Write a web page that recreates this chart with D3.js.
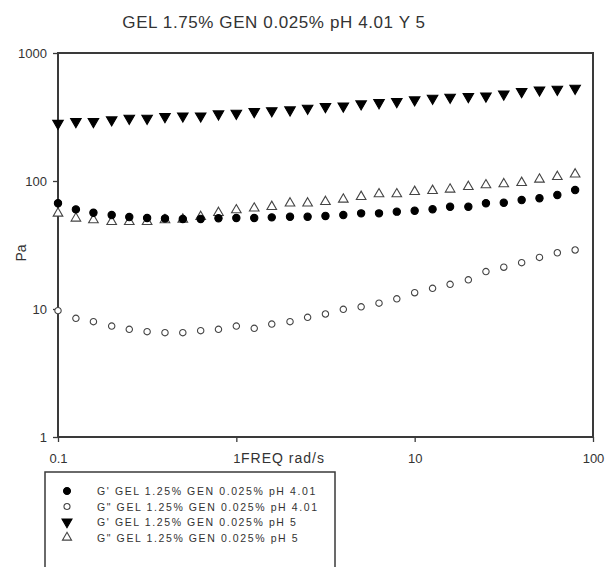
<!DOCTYPE html>
<html>
<head>
<meta charset="utf-8">
<script src="https://cdn.jsdelivr.net/npm/d3@7"></script>
<style>
  html, body { margin: 0; padding: 0; background: #fff; }
  svg { display: block; font-family: "Liberation Sans", Arial, sans-serif; }
</style>
</head>
<body>
<svg id="chart" width="605" height="567"></svg>
<script>
// Oscillatory frequency sweep, rad/s
const freq = [0.1, 0.126, 0.158, 0.2, 0.251, 0.316, 0.398, 0.501, 0.631, 0.794,
              1, 1.26, 1.58, 2, 2.51, 3.16, 3.98, 5.01, 6.31, 7.94,
              10, 12.6, 15.8, 20, 25.1, 31.6, 39.8, 50.1, 63.1, 79.4];

// Moduli, Pa
const gPrime401 = [67, 60, 56.5, 54.2, 52.3, 51.4, 51, 50.5, 50.5, 51.1,
                   51.4, 51.4, 52, 52.6, 52.6, 53.3, 54.2, 55.9, 55.9, 57.6,
                   58.6, 60.1, 63, 63, 67, 67.7, 71, 73.3, 77.8, 85];
const gDouble401 = [9.7, 8.46, 7.96, 7.36, 6.94, 6.65, 6.53, 6.53, 6.77, 6.94,
                    7.36, 7.07, 7.63, 7.96, 8.61, 9.14, 9.95, 10.4, 11.1, 12.0,
                    13.4, 14.5, 15.6, 16.9, 19.6, 21.2, 23.0, 25.3, 27.5, 28.9];
const gPrime5 = [282, 291, 291, 300, 309, 309, 318, 322, 322, 334,
                 338, 348, 354, 359, 370, 381, 385, 400, 409, 417,
                 430, 443, 451, 456, 461, 478, 499, 514, 520, 530];
const gDouble5 = [55.9, 51.1, 49.6, 48.1, 48.1, 48.1, 49.6, 50.2, 52.6, 56.5,
                  59.3, 61.2, 63, 67, 67, 68.9, 71.9, 75.4, 79.1, 79.1,
                  82.5, 84, 86.1, 90.2, 93, 94.8, 97, 103, 108, 113];

const seriesNames = [
  "G' GEL 1.25% GEN 0.025% pH 4.01",
  "G\" GEL 1.25% GEN 0.025% pH 4.01",
  "G' GEL 1.25% GEN 0.025% pH 5",
  "G\" GEL 1.25% GEN 0.025% pH 5"
];
const xTicks = [0.1, 1, 10, 100];
const xTickLabels = ["0.1", "1", "10", "100"];
const yTicks = [1, 10, 100, 1000];
const yTickLabels = ["1", "10", "100", "1000"];

const titleText = "GEL 1.75% GEN 0.025% pH 4.01 Y 5";
const xTitle = "FREQ rad/s";
const yTitle = "Pa";

const svg = d3.select("#chart");
const plot = { left: 58, right: 593, top: 53, bottom: 437 };

const x = d3.scaleLog().domain([0.1, 100]).range([plot.left, plot.right]);
const y = d3.scaleLog().domain([1, 1000]).range([plot.bottom, plot.top]);

const ink = "#3a3a3a";

// Title
svg.append("text")
  .attr("x", 274).attr("y", 28)
  .attr("text-anchor", "middle")
  .attr("font-size", 17)
  .attr("letter-spacing", 0.6)
  .attr("fill", "#333")
  .text(titleText);

// Axes
const yAxis = d3.axisLeft(y).tickValues(yTicks)
  .tickFormat((d, i) => yTickLabels[i]).tickSize(5).tickPadding(6);
const gy = svg.append("g").attr("transform", `translate(${plot.left},0)`).call(yAxis);
gy.select(".domain").remove();
gy.selectAll("line").attr("stroke", ink).attr("stroke-width", 1.3);
gy.selectAll("text").attr("font-size", 13).attr("fill", "#333")
  .style("font-family", "Liberation Sans, Arial, sans-serif");

const xAxis = d3.axisBottom(x).tickValues(xTicks)
  .tickFormat((d, i) => xTickLabels[i]).tickSize(5).tickPadding(12);
const gx = svg.append("g").attr("transform", `translate(0,${plot.bottom})`).call(xAxis);
gx.select(".domain").remove();
gx.selectAll("line").attr("stroke", ink).attr("stroke-width", 1.3);
gx.selectAll("text").attr("font-size", 13).attr("fill", "#333")
  .style("font-family", "Liberation Sans, Arial, sans-serif");

// Frame
svg.append("rect")
  .attr("x", plot.left).attr("y", plot.top)
  .attr("width", plot.right - plot.left).attr("height", plot.bottom - plot.top)
  .attr("fill", "none").attr("stroke", ink).attr("stroke-width", 2);

// Axis titles
svg.append("text")
  .attr("x", 283).attr("y", 463)
  .attr("text-anchor", "middle")
  .attr("font-size", 14)
  .attr("letter-spacing", 1)
  .attr("fill", "#333")
  .text(xTitle);

svg.append("text")
  .attr("transform", "translate(26,253) rotate(-90)")
  .attr("text-anchor", "middle")
  .attr("font-size", 14)
  .attr("fill", "#333")
  .text(yTitle);

// Marker styles (filled circle, open circle, filled down-triangle, open up-triangle)
const styles = [
  { type: d3.symbolCircle, size: 42, rot: 0, fill: "#000", stroke: "#000" },
  { type: d3.symbolCircle, size: 32, rot: 0, fill: "#fff", stroke: "#444" },
  { type: d3.symbolTriangle, size: 48, rot: 180, fill: "#000", stroke: "#000" },
  { type: d3.symbolTriangle, size: 40, rot: 0, fill: "#fff", stroke: "#444" }
];
const seriesValues = [gPrime401, gDouble401, gPrime5, gDouble5];

// Draw order: open markers first so filled markers sit on top
const drawOrder = [3, 1, 2, 0];
drawOrder.forEach(si => {
  const st = styles[si];
  const pts = freq.map((f, i) => ({ f, v: seriesValues[si][i] }));
  svg.append("g").selectAll("path")
    .data(pts)
    .join("path")
    .attr("d", d3.symbol().type(st.type).size(st.size))
    .attr("transform", d => `translate(${x(d.f)},${y(d.v)}) rotate(${st.rot})`)
    .attr("fill", st.fill)
    .attr("stroke", st.stroke)
    .attr("stroke-width", 1.1);
});

// Legend
const legend = svg.append("g");
legend.append("rect")
  .attr("x", 45).attr("y", 472)
  .attr("width", 290).attr("height", 110)
  .attr("fill", "#fff").attr("stroke", ink).attr("stroke-width", 1.5);

seriesNames.forEach((name, i) => {
  const st = styles[i];
  const rowY = 491 + i * 15.5;
  legend.append("path")
    .attr("d", d3.symbol().type(st.type).size(st.size * 0.9))
    .attr("transform", `translate(67,${rowY}) rotate(${st.rot})`)
    .attr("fill", st.fill).attr("stroke", st.stroke).attr("stroke-width", 1.1);
  legend.append("text")
    .attr("x", 97).attr("y", rowY + 4)
    .attr("font-size", 10.5)
    .attr("letter-spacing", 1.6)
    .attr("fill", "#333")
    .text(name);
});
</script>
</body>
</html>
